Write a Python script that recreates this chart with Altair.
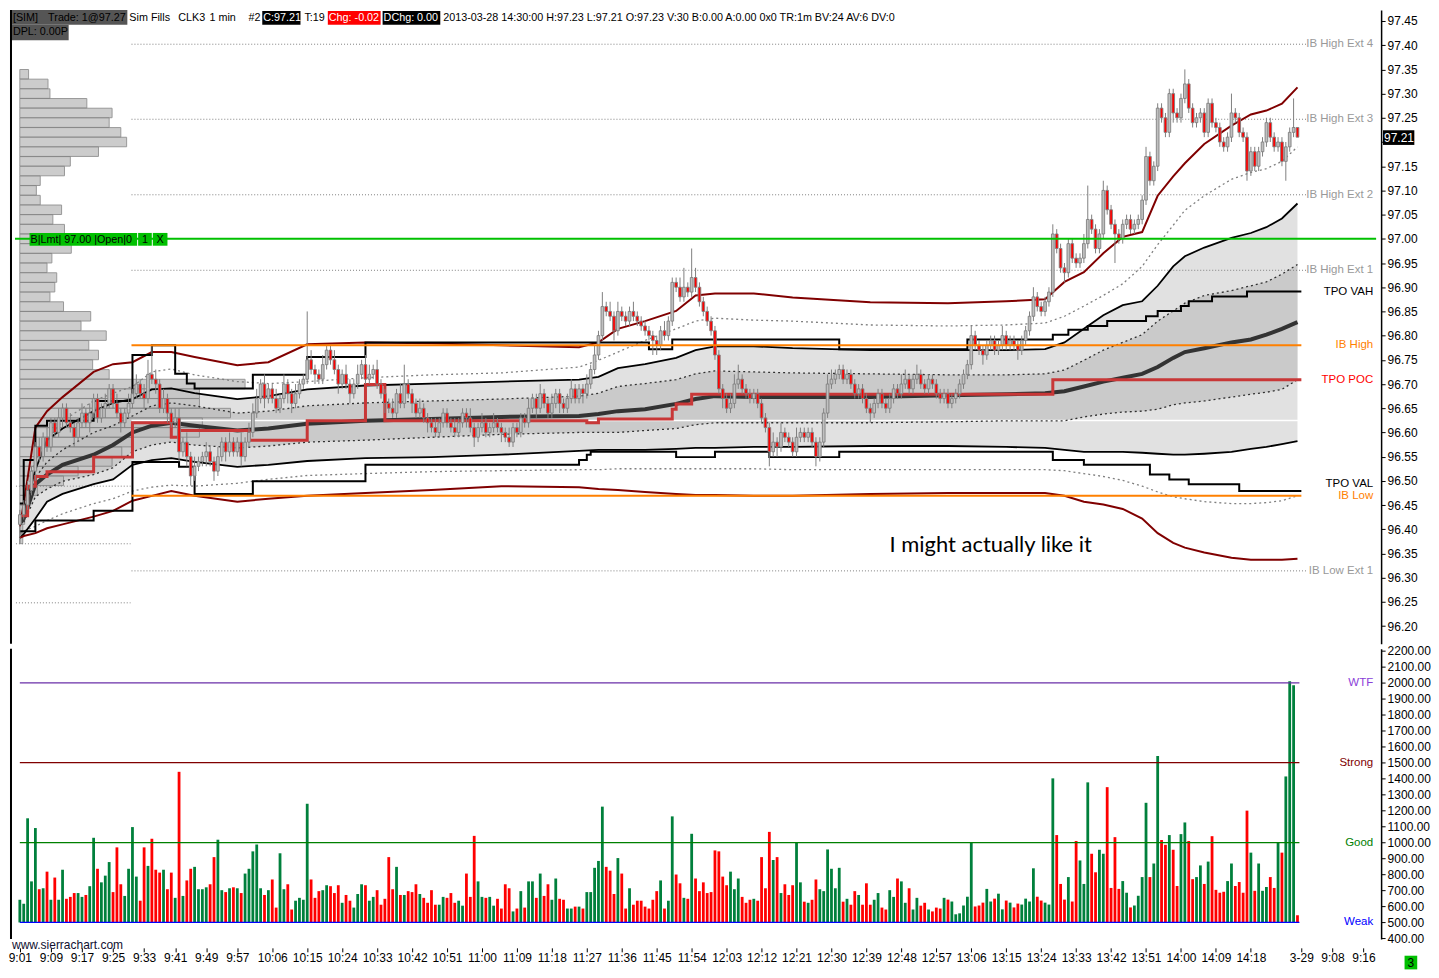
import altair as alt
import pandas as pd

S = 0.98
W = 1374
H1 = 635
H2 = 291
FONT = "Liberation Sans"
HF = 10.8  # header font size


def P(v):
    return round(v * S, 1)

# ---------------------------------------------------------------- data
# candles, cents above 96.00 (1-minute bars from 9:01 to 14:30)
first_open_c = 41
close_c = [
    43, 45, 48, 52, 57, 55, 59, 57, 62, 60,
    63, 65, 62, 61, 59, 62, 64, 62, 64, 67,
    63, 65, 66, 69, 66, 64, 62, 64, 66, 68,
    70, 68, 67, 72, 71, 70, 65, 67, 64, 62,
    63, 56, 58, 55, 51, 53, 54, 55, 56, 54,
    52, 55, 58, 56, 58, 56, 58, 55, 58, 60,
    64, 67, 70, 67, 69, 67, 65, 67, 70, 68,
    66, 68, 70, 71, 75, 73, 72, 71, 74, 77,
    75, 73, 70, 72, 70, 68, 70, 72, 74, 71,
    72, 73, 70, 68, 66, 65, 64, 68, 66, 70,
    68, 66, 64, 65, 63, 62, 61, 60, 62, 64,
    62, 61, 60, 62, 64, 63, 61, 59, 61, 62,
    60, 61, 62, 61, 60, 59, 58, 61, 60, 63,
    62, 65, 67, 65, 68, 66, 64, 66, 68, 66,
    65, 67, 69, 67, 69, 68, 70, 73, 76, 80,
    86, 85, 84, 81, 85, 84, 83, 85, 84, 83,
    82, 81, 80, 79, 78, 81, 80, 83, 91, 90,
    88, 90, 89, 92, 90, 87, 85, 83, 81, 76,
    69, 67, 65, 66, 70, 71, 69, 68, 67, 68,
    66, 63, 61, 56, 58, 57, 60, 59, 58, 56,
    59, 60, 59, 60, 58, 55, 58, 64, 70, 71,
    72, 73, 71, 72, 70, 68, 69, 67, 65, 64,
    66, 68, 66, 65, 67, 69, 68, 70, 71, 69,
    71, 72, 70, 69, 71, 70, 68, 67, 68, 66,
    67, 68, 70, 72, 74, 80, 78, 77, 76, 78,
    79, 77, 78, 80, 78, 79, 78, 77, 79, 81,
    84, 88, 86, 85, 87, 89, 101, 98, 94, 93,
    99, 96, 95, 96, 99, 104, 102, 98, 101, 110,
    106, 103, 101, 100, 103, 104, 102, 103, 104, 108,
    117, 112, 115, 127, 125, 122, 130, 126, 125, 129,
    132, 127, 124, 125, 126, 122, 128, 124, 123, 120,
    119, 121, 126, 125, 122, 121, 114, 118, 115, 118,
    120, 124, 121, 119, 120, 116, 119, 122, 123, 121,
]
up_wick_c = [
    1, 1, 2, 1, 1, 2, 1, 2, 1, 1,
    2, 1, 1, 2, 1, 1, 2, 1, 2, 1,
    1, 1, 2, 1, 1, 2, 1, 1, 2, 1,
    2, 1, 2, 3, 6, 2, 1, 2, 1, 1,
    2, 2, 1, 2, 1, 2, 1, 1, 2, 1,
    1, 2, 1, 1, 2, 1, 1, 2, 1, 2,
    2, 2, 1, 2, 1, 1, 2, 1, 2, 1,
    1, 2, 1, 1, 10, 2, 1, 1, 2, 1,
    1, 2, 1, 1, 2, 1, 1, 2, 1, 2,
    2, 1, 2, 1, 1, 1, 2, 1, 2, 4,
    1, 1, 1, 2, 1, 1, 1, 2, 1, 1,
    1, 1, 2, 1, 1, 1, 2, 1, 1, 2,
    1, 1, 2, 1, 1, 1, 2, 1, 1, 1,
    1, 2, 1, 1, 2, 1, 1, 2, 1, 1,
    1, 1, 2, 1, 1, 1, 2, 1, 2, 1,
    3, 1, 2, 1, 2, 1, 1, 1, 2, 1,
    1, 1, 1, 1, 1, 1, 2, 1, 1, 1,
    2, 4, 1, 6, 2, 1, 1, 1, 1, 1,
    1, 1, 1, 2, 2, 3, 1, 1, 1, 1,
    1, 1, 1, 1, 2, 1, 2, 1, 1, 1,
    2, 1, 1, 1, 1, 1, 1, 1, 2, 2,
    1, 1, 1, 1, 1, 1, 1, 1, 1, 1,
    1, 1, 1, 1, 1, 1, 1, 2, 2, 1,
    1, 2, 1, 1, 1, 1, 1, 1, 1, 1,
    1, 1, 1, 1, 1, 2, 1, 1, 1, 1,
    1, 1, 1, 2, 1, 1, 1, 1, 1, 1,
    1, 2, 1, 1, 1, 1, 2, 1, 1, 1,
    1, 1, 1, 1, 2, 7, 1, 1, 1, 2,
    1, 1, 1, 1, 1, 1, 1, 1, 1, 1,
    2, 1, 1, 1, 1, 1, 1, 1, 1, 1,
    3, 1, 1, 1, 1, 1, 1, 1, 1, 1,
    1, 1, 4, 1, 1, 1, 1, 1, 1, 1,
    1, 1, 1, 1, 1, 1, 1, 1, 6, 0,
]
dn_wick_c = [
    4, 1, 1, 1, 2, 1, 1, 1, 1, 1,
    1, 2, 1, 1, 2, 1, 1, 1, 2, 1,
    1, 1, 2, 1, 1, 1, 2, 1, 1, 1,
    1, 1, 2, 1, 1, 2, 1, 1, 2, 1,
    1, 2, 1, 2, 2, 1, 1, 1, 2, 1,
    2, 1, 1, 2, 1, 1, 1, 2, 1, 1,
    1, 1, 1, 2, 1, 1, 1, 1, 1, 2,
    2, 1, 1, 1, 1, 1, 2, 1, 1, 1,
    1, 1, 2, 1, 1, 2, 1, 1, 1, 1,
    1, 1, 1, 1, 2, 1, 1, 1, 1, 1,
    1, 2, 1, 1, 1, 2, 1, 1, 1, 1,
    1, 1, 1, 1, 1, 2, 1, 2, 1, 1,
    1, 1, 1, 1, 2, 1, 1, 1, 1, 1,
    1, 1, 1, 2, 1, 1, 1, 1, 1, 2,
    1, 1, 1, 1, 1, 2, 1, 1, 1, 1,
    1, 1, 1, 2, 1, 1, 1, 1, 1, 1,
    1, 1, 1, 3, 2, 1, 1, 1, 1, 1,
    1, 1, 1, 1, 1, 1, 1, 1, 1, 1,
    1, 2, 1, 1, 1, 1, 1, 1, 1, 1,
    1, 1, 1, 3, 1, 2, 1, 1, 1, 1,
    1, 1, 1, 1, 1, 2, 1, 1, 1, 1,
    1, 1, 1, 1, 1, 1, 1, 1, 1, 2,
    1, 1, 1, 1, 1, 1, 1, 1, 1, 1,
    1, 1, 1, 1, 1, 1, 1, 1, 1, 1,
    1, 1, 1, 1, 1, 1, 1, 1, 2, 1,
    1, 1, 1, 1, 1, 1, 1, 2, 1, 1,
    1, 1, 1, 1, 1, 1, 1, 1, 1, 2,
    1, 1, 1, 1, 1, 1, 1, 1, 1, 1,
    1, 1, 6, 1, 1, 1, 1, 1, 1, 1,
    1, 1, 1, 1, 1, 1, 1, 2, 1, 1,
    1, 1, 1, 1, 1, 1, 1, 1, 1, 1,
    1, 1, 1, 1, 1, 1, 2, 1, 1, 1,
    1, 1, 1, 1, 1, 1, 4, 1, 1, 0,
]
volume = [
    642, 617, 1152, 757, 1091, 708, 714, 818, 642, 781,
    642, 830, 648, 660, 684, 684, 660, 672, 727, 1030,
    836, 751, 793, 878, 690, 970, 739, 666, 836, 1097,
    787, 636, 970, 854, 1024, 830, 812, 830, 708, 812,
    654, 1443, 666, 763, 836, 848, 708, 708, 720, 739,
    909, 1018, 702, 690, 714, 720, 714, 684, 806, 836,
    945, 988, 714, 672, 702, 769, 593, 933, 708, 739,
    581, 636, 654, 642, 1243, 769, 654, 696, 702, 733,
    727, 684, 733, 623, 672, 636, 593, 678, 739, 733,
    636, 660, 702, 611, 648, 909, 708, 848, 672, 672,
    696, 690, 739, 678, 654, 623, 702, 611, 611, 660,
    654, 684, 623, 636, 605, 806, 660, 1042, 757,
    660, 654, 660, 605, 648, 587, 739, 714, 569, 587,
    696, 593, 757, 757, 654, 806, 666, 739, 642, 775,
    648, 642, 587, 587, 599, 599, 587, 690, 690, 842,
    885, 1225, 848, 824, 678, 903, 806, 587, 714, 611,
    636, 636, 599, 587, 642, 696, 763, 587, 636, 1164,
    800, 745, 654, 648, 1055, 775, 696, 751, 684, 690,
    951, 945, 787, 733, 818, 708, 775, 660, 623, 642,
    648, 636, 909, 714, 1067, 891, 909, 684, 739, 672,
    733, 1000, 751, 630, 623, 642, 769, 708, 696, 957,
    836, 714, 842, 630, 648, 611, 696, 672, 611, 745,
    611, 642, 684, 593, 581, 702, 660, 775, 757, 623,
    714, 581, 654, 605, 623, 581, 569, 593, 587, 654,
    643, 631, 551, 557, 606, 661, 998, 600, 606, 624,
    710, 631, 649, 680, 582, 637, 624, 594, 618, 612,
    649, 631, 839, 661, 637, 624, 612, 1402, 1047, 741,
    643, 784, 631, 1010, 888, 741, 1377, 930, 814, 955,
    930, 1347, 716, 1034, 710, 759, 686, 594, 606, 667,
    784, 1249, 784, 869, 1542, 1016, 986, 1047, 955, 728,
    1053, 1126, 1010, 771, 784, 857, 741, 881, 1040, 704,
    686, 692, 759, 869, 728, 753, 686, 1200, 937, 698,
    869, 698, 722, 784, 716, 998, 937, 1414, 2010, 1985, 545,
]

# study lines sampled at bar indices
knots = [0, 1, 4, 7, 11, 19, 24, 29, 34, 39, 45, 56, 64, 74, 89, 106, 124, 144, 149, 154,
         161, 169, 174, 179, 189, 199, 219, 239, 254, 264, 269, 274, 279, 284, 289, 293, 297,
         300, 305, 312, 317, 321, 325, 329]
band_up2 = [96.406, 96.453, 96.610, 96.644, 96.673, 96.725, 96.741, 96.745, 96.766, 96.766,
            96.756, 96.739, 96.745, 96.782, 96.786, 96.784, 96.780, 96.776, 96.786, 96.814,
            96.830, 96.851, 96.883, 96.887, 96.887, 96.879, 96.869, 96.867, 96.871, 96.875,
            96.911, 96.931, 96.970, 97.004, 97.014, 97.089, 97.129, 97.156, 97.196, 97.234,
            97.257, 97.265, 97.279, 97.313]
band_dn2 = [96.382, 96.386, 96.392, 96.402, 96.410, 96.426, 96.438, 96.459, 96.469, 96.479,
            96.469, 96.457, 96.463, 96.469, 96.475, 96.481, 96.489, 96.487, 96.483, 96.481,
            96.477, 96.473, 96.471, 96.471, 96.469, 96.469, 96.473, 96.475, 96.475, 96.475,
            96.469, 96.457, 96.451, 96.442, 96.422, 96.392, 96.372, 96.362, 96.352, 96.341,
            96.337, 96.337, 96.337, 96.339]
band_up1 = [96.412, 96.432, 96.523, 96.584, 96.608, 96.644, 96.661, 96.669, 96.689, 96.691,
            96.681, 96.669, 96.675, 96.689, 96.697, 96.701, 96.705, 96.709, 96.715, 96.733,
            96.741, 96.754, 96.770, 96.778, 96.778, 96.774, 96.770, 96.770, 96.770, 96.772,
            96.786, 96.814, 96.842, 96.863, 96.871, 96.903, 96.943, 96.964, 96.982, 97.002,
            97.012, 97.024, 97.042, 97.073]
band_dn1 = [96.382, 96.390, 96.422, 96.457, 96.473, 96.493, 96.503, 96.533, 96.543, 96.547,
            96.539, 96.529, 96.533, 96.541, 96.547, 96.549, 96.554, 96.562, 96.564, 96.564,
            96.564, 96.566, 96.568, 96.568, 96.570, 96.570, 96.572, 96.572, 96.570, 96.568,
            96.564, 96.560, 96.560, 96.560, 96.558, 96.556, 96.554, 96.554, 96.556, 96.560,
            96.566, 96.570, 96.576, 96.582]
vwap = [96.412, 96.422, 96.493, 96.513, 96.533, 96.554, 96.574, 96.600, 96.614, 96.620,
        96.614, 96.604, 96.608, 96.618, 96.624, 96.628, 96.632, 96.634, 96.638, 96.644,
        96.648, 96.659, 96.669, 96.675, 96.673, 96.673, 96.673, 96.677, 96.679, 96.681,
        96.685, 96.695, 96.705, 96.713, 96.721, 96.735, 96.754, 96.766, 96.774, 96.786,
        96.792, 96.802, 96.814, 96.828]
dot_up15 = [96.418, 96.442, 96.543, 96.584, 96.624, 96.665, 96.681, 96.695, 96.725, 96.731,
            96.719, 96.705, 96.701, 96.705, 96.713, 96.719, 96.723, 96.735, 96.749, 96.766,
            96.790, 96.814, 96.830, 96.836, 96.832, 96.830, 96.822, 96.820, 96.822, 96.826,
            96.840, 96.861, 96.883, 96.907, 96.943, 96.988, 97.028, 97.059, 97.089, 97.123,
            97.137, 97.145, 97.160, 97.190]
dot_up05 = [96.412, 96.426, 96.507, 96.539, 96.564, 96.600, 96.614, 96.634, 96.655, 96.661,
            96.655, 96.640, 96.644, 96.655, 96.661, 96.665, 96.669, 96.675, 96.681, 96.695,
            96.701, 96.709, 96.721, 96.727, 96.725, 96.723, 96.721, 96.719, 96.719, 96.721,
            96.729, 96.749, 96.770, 96.786, 96.802, 96.830, 96.851, 96.867, 96.883, 96.893,
            96.903, 96.911, 96.927, 96.947]
dot_dn05 = [96.408, 96.414, 96.467, 96.483, 96.499, 96.513, 96.527, 96.560, 96.574, 96.580,
            96.574, 96.568, 96.572, 96.580, 96.584, 96.590, 96.596, 96.600, 96.600, 96.600,
            96.604, 96.608, 96.616, 96.620, 96.620, 96.620, 96.620, 96.622, 96.624, 96.624,
            96.624, 96.632, 96.638, 96.642, 96.644, 96.648, 96.657, 96.661, 96.665, 96.673,
            96.679, 96.683, 96.689, 96.709]
dot_dn15 = [96.392, 96.396, 96.406, 96.418, 96.432, 96.453, 96.463, 96.479, 96.487, 96.491,
            96.489, 96.495, 96.503, 96.511, 96.515, 96.519, 96.521, 96.523, 96.523, 96.525,
            96.525, 96.525, 96.525, 96.525, 96.525, 96.523, 96.523, 96.523, 96.523, 96.523,
            96.521, 96.515, 96.509, 96.501, 96.489, 96.477, 96.467, 96.463, 96.457, 96.453,
            96.453, 96.455, 96.459, 96.469]

vah_k = [0, 1, 4, 7, 19, 29, 34, 40, 43, 45, 60, 74, 89, 162, 168, 211, 244, 266, 270, 275,
         280, 290, 293, 299, 301, 307, 316, 330]
vah_p = [96.453, 96.543, 96.614, 96.624, 96.665, 96.760, 96.780, 96.721, 96.701, 96.691,
         96.719, 96.756, 96.786, 96.772, 96.792, 96.772, 96.792, 96.802, 96.812, 96.820,
         96.830, 96.840, 96.851, 96.861, 96.871, 96.881, 96.891, 96.891]
val_k = [0, 4, 19, 29, 41, 45, 60, 89, 144, 146, 147, 169, 179, 193, 211, 266, 274, 291, 296,
         301, 314, 330]
val_p = [96.396, 96.418, 96.438, 96.539, 96.529, 96.473, 96.499, 96.533, 96.543, 96.554,
         96.560, 96.549, 96.560, 96.549, 96.560, 96.543, 96.533, 96.513, 96.503, 96.493,
         96.479, 96.479]
poc_k = [0, 2, 4, 7, 19, 29, 39, 41, 59, 74, 89, 94, 146, 149, 168, 169, 173, 266, 330]
poc_p = [96.428, 96.489, 96.509, 96.519, 96.549, 96.620, 96.590, 96.604, 96.584, 96.624,
         96.699, 96.624, 96.620, 96.628, 96.648, 96.659, 96.679, 96.709, 96.709]

prof_level = [97.34, 97.32, 97.30, 97.28, 97.26, 97.24, 97.22, 97.20, 97.18, 97.16, 97.14,
              97.12, 97.10, 97.08, 97.06, 97.04, 97.02, 97.00, 96.98, 96.96, 96.94, 96.92,
              96.90, 96.88, 96.86, 96.84, 96.82, 96.80, 96.78, 96.76, 96.74, 96.72, 96.70,
              96.68, 96.66, 96.64, 96.62, 96.60, 96.58, 96.56, 96.54, 96.52, 96.50, 96.48,
              96.46, 96.44, 96.42, 96.40, 96.38]
prof_vol = [9, 29, 31, 69, 95, 92, 104, 110, 81, 52, 46, 21, 17, 21, 43, 34, 46, 40, 53, 33,
            28, 38, 36, 31, 45, 73, 63, 89, 71, 81, 75, 92, 232, 185, 185, 217, 188, 185, 115,
            105, 95, 60, 45, 18, 8, 7, 5, 3, 3]

ib_high, ib_low, ib_mid = 96.780, 96.469, 96.6245
ib_ext_p = [97.402, 97.247, 97.091, 96.935, 96.314]
ib_ext_lab = ["IB High Ext 4", "IB High Ext 3", "IB High Ext 2", "IB High Ext 1", "IB Low Ext 1"]
early_dot_p = [96.489, 96.370, 96.248]
order_price = 97.00

price_ticks = [96.20, 96.25, 96.30, 96.35, 96.40, 96.45, 96.50, 96.55, 96.60, 96.65, 96.70,
               96.75, 96.80, 96.85, 96.90, 96.95, 97.00, 97.05, 97.10, 97.15, 97.20, 97.25,
               97.30, 97.35, 97.40, 97.45]
vol_ticks = [400, 500, 600, 700, 800, 900, 1000, 1100, 1200, 1300, 1400, 1500, 1600, 1700,
             1800, 1900, 2000, 2100, 2200]
vol_levels = [2000, 1500, 1000, 500]
vol_level_lab = ["WTF", "Strong", "Good", "Weak"]
vol_level_col = ["#8a3fd8", "#800000", "#008000", "#0000ff"]
vol_line_col = ["#6a2fa8", "#800000", "#008000", "#0000ff"]
time_k = [0, 8, 16, 24, 32, 40, 48, 56, 65, 74, 83, 92, 101, 110, 119, 128, 137, 146, 155,
          164, 173, 182, 191, 200, 209, 218, 227, 236, 245, 254, 263, 272, 281, 290, 299, 308,
          317, 330, 338, 346]
time_lab = ["9:01", "9:09", "9:17", "9:25", "9:33", "9:41", "9:49", "9:57", "10:06", "10:15",
            "10:24", "10:33", "10:42", "10:51", "11:00", "11:09", "11:18", "11:27", "11:36",
            "11:45", "11:54", "12:03", "12:12", "12:21", "12:30", "12:39", "12:48", "12:57",
            "13:06", "13:15", "13:24", "13:33", "13:42", "13:51", "14:00", "14:09", "14:18",
            "3-29", "9:08", "9:16"]

# ---------------------------------------------------------------- frames
n = min(len(close_c), len(up_wick_c), len(dn_wick_c), len(volume))
rows = []
prev = first_open_c
for i in range(n):
    o, c = prev, close_c[i]
    hi = max(o, c) + up_wick_c[i]
    lo = min(o, c) - dn_wick_c[i]
    rows.append(dict(k=i, o=96 + o / 100, c=96 + c / 100, h=96 + hi / 100, l=96 + lo / 100,
                     v=volume[i], base=500, d="up" if c >= o else "dn"))
    prev = c
bars = pd.DataFrame(rows)

bands = pd.DataFrame(dict(k=knots, um=band_up2, lm=band_dn2, bu=band_up1, bl=band_dn1, vw=vwap,
                          du=dot_up15, iu=dot_up05, il=dot_dn05, dl=dot_dn15))
vah = pd.DataFrame(dict(k=vah_k, p=vah_p))
val = pd.DataFrame(dict(k=val_k, p=val_p))
poc = pd.DataFrame(dict(k=poc_k, p=poc_p))
prof = pd.DataFrame(dict(lv=prof_level, pv=prof_vol))
ONE = pd.DataFrame({"one": [1]})

xs = alt.Scale(domain=[-1.25, 349.25], nice=False, zero=False)
ps = alt.Scale(domain=[96.1636, 97.4727], nice=False, zero=False)
vs = alt.Scale(domain=[396, 2214], nice=False, zero=False)

price_axis = alt.Axis(orient="right", values=price_ticks,
                      labelExpr="format(datum.value, '.2f') == '97.20' ? '' : format(datum.value, '.2f')",
                      tickSize=4, tickColor="black", domainColor="black", domainWidth=1.5,
                      labelColor="black", labelFontSize=12, labelFont=FONT, labelPadding=2,
                      labelOverlap=False, labelFlush=False, grid=False, title=None)
vol_axis = alt.Axis(orient="right", values=vol_ticks, format=".2f", tickSize=4, tickColor="black",
                    domainColor="black", domainWidth=1.5, labelColor="black", labelFontSize=12,
                    labelFont=FONT, labelPadding=2, labelOverlap=False, labelFlush=False,
                    grid=False, title=None)
lab_arr = "[" + ",".join("'%s'" % s for s in time_lab) + "]"
k_arr = "[" + ",".join(str(k) for k in time_k) + "]"
time_axis = alt.Axis(values=time_k, labelExpr=f"{lab_arr}[indexof({k_arr}, datum.value)]",
                     tickSize=4, tickColor="black", domain=False, labelFontSize=12, labelFont=FONT,
                     labelColor="black", labelPadding=1, offset=P(9), grid=False, title=None,
                     labelOverlap=False, labelFlush=False, labelBound=True)


def XP(f="k"):
    return alt.X(f"{f}:Q", scale=xs, axis=None)


def YP(f):
    return alt.Y(f"{f}:Q", scale=ps, axis=price_axis)


def XV(f="k"):
    return alt.X(f"{f}:Q", scale=xs, axis=time_axis)


def YV(f):
    return alt.Y(f"{f}:Q", scale=vs, axis=vol_axis)


def rect_px(x0, y0, x1, y1, color, dy=0):
    return alt.Chart(ONE).mark_rect(color=color).encode(
        x=alt.value(P(x0)), x2=alt.value(P(x1)), y=alt.value(P(y0 - dy)), y2=alt.value(P(y1 - dy)))


def text_px(x, y, s, color="black", size=12, align="left", font=FONT, weight="normal", dy=0):
    return alt.Chart(ONE).mark_text(text=s, color=color, fontSize=size, align=align,
                                    baseline="middle", font=font, fontWeight=weight).encode(
        x=alt.value(P(x)), y=alt.value(P(y - dy)))


def line(field, color, width, dash=None):
    kw = dict(color=color, strokeWidth=width)
    if dash:
        kw["strokeDash"] = dash
    return alt.Chart(bands).mark_line(**kw).encode(x=XP(), y=YP(field))


def hrules(k0, k1, prices, color, width, dash=None):
    df = pd.DataFrame(dict(k0=k0, k1=k1, p=prices))
    kw = dict(color=color, strokeWidth=width)
    if dash:
        kw["strokeDash"] = dash
    return alt.Chart(df).mark_rule(**kw).encode(x=XP("k0"), x2="k1:Q", y=YP("p"))


# ---------------------------------------------------------------- price panel
layers = []
layers.append(alt.Chart(bands).mark_area(color="#e1e1e1").encode(x=XP(), y=YP("bu"), y2="bl:Q"))
layers.append(alt.Chart(bands).mark_area(color="#cacaca").encode(x=XP(), y=YP("iu"), y2="il:Q"))
layers.append(alt.Chart(prof).transform_calculate(
    x0="0", x1="datum.pv / 4", y0="datum.lv - 0.0098", y1="datum.lv + 0.0098"
).mark_rect(fill="#c0c0c0", stroke="#808080", strokeWidth=1, opacity=0.8).encode(
    x=XP("x0"), x2="x1:Q", y=YP("y0"), y2="y1:Q"))
layers.append(hrules(28.75, 331.25, ib_ext_p, "#808080", 1, [1, 2]))
layers.append(hrules(-1.0, 28.5, early_dot_p, "#808080", 1, [1, 2]))
layers.append(hrules(28.75, 329.5, [ib_mid], "#ffffff", 1.5))
layers.append(line("du", "#808080", 1.3, [2, 3]))
layers.append(line("dl", "#808080", 1.3, [2, 3]))
layers.append(line("iu", "#303030", 1.3, [2, 3]))
layers.append(line("il", "#303030", 1.3, [2, 3]))
layers.append(line("bu", "#000000", 1.8))
layers.append(line("bl", "#000000", 1.8))
layers.append(line("um", "#800000", 2))
layers.append(line("lm", "#800000", 2))
layers.append(alt.Chart(vah).mark_line(color="#000000", strokeWidth=2, interpolate="step-after").encode(x=XP(), y=YP("p")))
layers.append(alt.Chart(val).mark_line(color="#000000", strokeWidth=2, interpolate="step-after").encode(x=XP(), y=YP("p")))
layers.append(line("vw", "#333333", 4))
layers.append(alt.Chart(poc).mark_line(color="#c83737", strokeWidth=3, interpolate="step-after").encode(x=XP(), y=YP("p")))
# candles
layers.append(alt.Chart(bars).mark_rule(color="#808080", strokeWidth=1).encode(x=XP(), y=YP("l"), y2="h:Q"))
layers.append(alt.Chart(bars).mark_bar(size=2.7, stroke="#808080", strokeWidth=0.9).encode(
    x=XP(), y=YP("o"), y2="c:Q",
    fill=alt.Fill("d:N", scale=alt.Scale(domain=["up", "dn"], range=["#c0c0c0", "#ff0000"]), legend=None)))
layers.append(hrules(28.75, 330, [ib_high, ib_low], "#ff8000", 2))
layers.append(hrules(-1.25, 349.25, [order_price], "#00c000", 2))

# right side labels
lab_df = pd.DataFrame(dict(
    k=[348.5] * 8,
    p=ib_ext_p[:4] + [96.891, ib_high, 96.709, 96.493],
    t=ib_ext_lab[:4] + ["TPO VAH", "IB High", "TPO POC", "TPO VAL"],
    col=["#999999"] * 4 + ["#000000", "#ff8000", "#ff0000", "#000000"]))
layers.append(alt.Chart(lab_df).mark_text(align="right", baseline="middle", fontSize=11.5, font=FONT).encode(
    x=XP(), y=YP("p"), text="t:N", color=alt.Color("col:N", scale=None)))
layers.append(rect_px(1361, 492, 1400, 505, "#ffffff"))
lab2 = pd.DataFrame(dict(k=[348.5, 348.5], p=[ib_low, ib_ext_p[4]], t=["IB Low", ib_ext_lab[4]],
                         col=["#ff8000", "#999999"]))
layers.append(alt.Chart(lab2).mark_text(align="right", baseline="middle", fontSize=11.5, font=FONT).encode(
    x=XP(), y=YP("p"), text="t:N", color=alt.Color("col:N", scale=None)))
note = pd.DataFrame(dict(k=[250.0], p=[96.368], t=["I might actually like it"]))
layers.append(alt.Chart(note).mark_text(align="center", baseline="middle", fontSize=22, font="Lato", color="black").encode(
    x=XP(), y=YP("p"), text="t:N"))

# order label
layers += [
    rect_px(20, 228, 130, 241, "#00c000"), rect_px(131, 228, 145, 241, "#00c000"),
    rect_px(146, 228, 161, 241, "#00c000"),
    text_px(21, 235, "B|Lmt| 97.00 |Open|0", size=HF), text_px(138, 235, "1", align="center", size=HF),
    text_px(153.5, 235, "X", align="center", size=HF),
]
# header
layers += [
    rect_px(1, 0, 120, 15, "#555555"), rect_px(1, 15, 60, 31, "#555555"),
    text_px(3, 8, "[SIM]", size=HF), text_px(39, 8, "Trade: 1@97.27", size=HF),
    text_px(3, 23, "DPL: 0.00P", size=HF),
    text_px(122, 8, "Sim Fills", size=HF), text_px(172, 8, "CLK3", size=HF),
    text_px(204, 8, "1 min", size=HF), text_px(244, 8, "#2", size=HF),
    rect_px(258, 1, 297, 15, "#000000"), text_px(259, 8, "C:97.21", color="white", size=HF),
    text_px(301, 8, "T:19", size=HF),
    rect_px(325, 1, 379, 15, "#ff0000"), text_px(326, 8, "Chg: -0.02", color="white", size=HF),
    rect_px(381, 1, 440, 15, "#000000"), text_px(382, 8, "DChg: 0.00", color="white", size=HF),
    text_px(443, 8, "2013-03-28 14:30:00 H:97.23 L:97.21 O:97.23 V:30 B:0.00 A:0.00 0x0 TR:1m BV:24 AV:6 DV:0", size=HF),
    rect_px(1404, 123, 1436, 138, "#000000"), text_px(1405, 130.5, "97.21", color="white", size=12),
]
layers.append(alt.Chart(ONE).mark_rule(color="black", strokeWidth=2).encode(
    x=alt.value(1), y=alt.value(0), y2=alt.value(H1)))

price_chart = alt.layer(*layers).properties(width=W, height=H1)

# ---------------------------------------------------------------- volume panel
vl = pd.DataFrame(dict(k0=[0] * 4, k1=[329.5] * 4, v=vol_levels, col=vol_line_col))
vlab = pd.DataFrame(dict(k=[348.5] * 4, v=vol_levels, t=vol_level_lab, col=vol_level_col))
vlayers = [
    alt.Chart(bars).mark_bar(size=2.8).encode(
        x=XV(), y=YV("v"), y2="base:Q",
        color=alt.Color("d:N", scale=alt.Scale(domain=["up", "dn"], range=["#00803c", "#ff0000"]), legend=None)),
    alt.Chart(vl).mark_rule(strokeWidth=1.2).encode(x=XV("k0"), x2="k1:Q", y=YV("v"),
                                                    color=alt.Color("col:N", scale=None)),
    alt.Chart(vlab).mark_text(align="right", baseline="middle", fontSize=11.5, font=FONT).encode(
        x=XV(), y=YV("v"), text="t:N", color=alt.Color("col:N", scale=None)),
    text_px(2, 951, "www.sierrachart.com", color="#101030", dy=648),
    rect_px(1426, 962, 1439, 976, "#00c000", dy=648),
    text_px(1432.5, 969, "3", align="center", dy=648),
    alt.Chart(ONE).mark_rule(color="black", strokeWidth=2).encode(
        x=alt.value(1), y=alt.value(0), y2=alt.value(H2)),
]
vol_chart = alt.layer(*vlayers).properties(width=W, height=H2)

chart = alt.vconcat(price_chart, vol_chart, spacing=0).properties(
    padding={"left": 0, "top": 0, "right": 0, "bottom": 0}, background="white"
).configure_view(stroke=None).configure_text(font=FONT)

chart.save("out.html", embed_options={"renderer": "svg", "actions": False})
